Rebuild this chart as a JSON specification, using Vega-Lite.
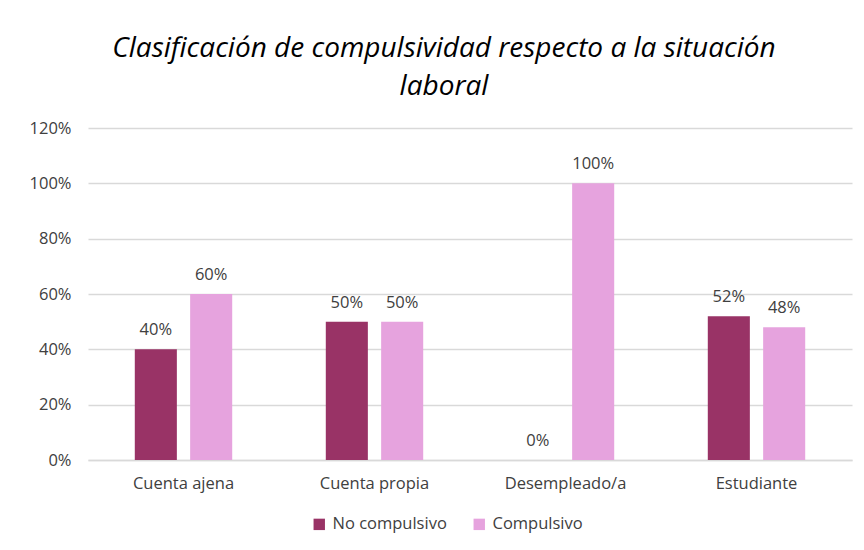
{
  "$schema": "https://vega.github.io/schema/vega-lite/v6.json",
  "width": 764,
  "height": 332,
  "autosize": {"type": "none"},
  "padding": {"left": 88, "top": 128, "right": 12, "bottom": 90},
  "background": "white",
  "title": {
    "text": ["Clasificación de compulsividad respecto a la situación", "laboral"],
    "font": "Open Sans",
    "fontStyle": "italic",
    "fontWeight": "normal",
    "fontSize": 28,
    "color": "#000000",
    "lineHeight": 38,
    "anchor": "middle",
    "dx": -26,
    "offset": 19
  },
  "data": {
    "values": [
      {"situacion": "Cuenta ajena", "tipo": "No compulsivo", "valor": 0.40},
      {"situacion": "Cuenta ajena", "tipo": "Compulsivo", "valor": 0.60},
      {"situacion": "Cuenta propia", "tipo": "No compulsivo", "valor": 0.50},
      {"situacion": "Cuenta propia", "tipo": "Compulsivo", "valor": 0.50},
      {"situacion": "Desempleado/a", "tipo": "No compulsivo", "valor": 0.0},
      {"situacion": "Desempleado/a", "tipo": "Compulsivo", "valor": 1.0},
      {"situacion": "Estudiante", "tipo": "No compulsivo", "valor": 0.52},
      {"situacion": "Estudiante", "tipo": "Compulsivo", "valor": 0.48}
    ]
  },
  "encoding": {
    "x": {
      "field": "situacion",
      "type": "nominal",
      "sort": null,
      "title": null,
      "scale": {"paddingInner": 0.49, "paddingOuter": 0.245},
      "axis": {
        "labelAngle": 0,
        "labelFont": "Open Sans",
        "labelFontSize": 16.5,
        "labelColor": "#404040",
        "labelPadding": 15,
        "ticks": false,
        "domainColor": "#D9D9D9",
        "domainWidth": 1.5
      }
    },
    "xOffset": {
      "field": "tipo",
      "type": "nominal",
      "sort": ["No compulsivo", "Compulsivo"],
      "scale": {"paddingInner": 0.24, "paddingOuter": 0}
    },
    "y": {
      "field": "valor",
      "type": "quantitative",
      "title": null,
      "scale": {"domain": [0, 1.2], "nice": false},
      "axis": {
        "values": [0, 0.2, 0.4, 0.6, 0.8, 1.0, 1.2],
        "format": ".0%",
        "labelFont": "Open Sans",
        "labelFontSize": 16.5,
        "labelColor": "#404040",
        "labelPadding": 17,
        "ticks": false,
        "domain": false,
        "gridColor": "#D9D9D9",
        "gridWidth": 1.5
      }
    }
  },
  "layer": [
    {
      "mark": {"type": "bar"},
      "encoding": {
        "color": {
          "field": "tipo",
          "type": "nominal",
          "sort": ["No compulsivo", "Compulsivo"],
          "scale": {"domain": ["No compulsivo", "Compulsivo"], "range": ["#993366", "#E6A3DE"]},
          "legend": {
            "title": null,
            "orient": "none",
            "direction": "horizontal",
            "legendX": 223,
            "legendY": 388,
            "symbolType": "square",
            "symbolSize": 130,
            "symbolStrokeWidth": 0,
            "labelFont": "Open Sans",
            "labelFontSize": 16.5,
            "labelColor": "#404040",
            "columnPadding": 24,
            "labelOffset": 5
          }
        }
      }
    },
    {
      "mark": {"type": "text", "dy": -19, "font": "Open Sans", "fontSize": 16.5, "color": "#404040"},
      "encoding": {
        "text": {"field": "valor", "type": "quantitative", "format": ".0%"}
      }
    }
  ],
  "config": {
    "view": {"stroke": null}
  }
}
